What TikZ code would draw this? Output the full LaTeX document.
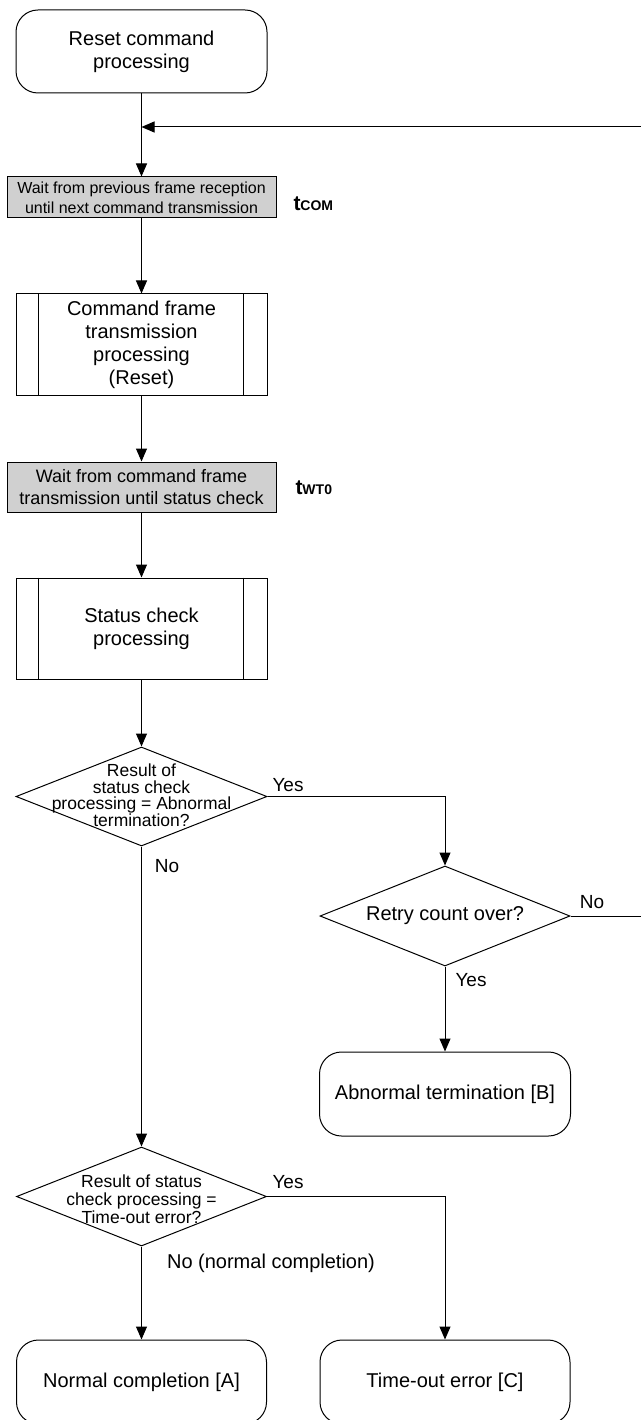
\documentclass[tikz,border=0pt]{standalone}
\usepackage{fontspec}
\setmainfont{Liberation Sans}
\usetikzlibrary{shapes.geometric,arrows.meta}
\definecolor{waitgray}{RGB}{208,208,208}
\begin{document}
\begin{tikzpicture}[x=1pt,y=-1pt,line width=1pt,
  arr/.style={-{Triangle[length=13pt,width=11pt]}},
  term/.style={draw, rounded corners=22pt, minimum width=251pt, minimum height=84pt, align=center, inner sep=0pt, font=\fontsize{20}{23}\selectfont},
  waitbox/.style={draw, fill=waitgray, minimum width=269pt, align=center, inner sep=0pt},
  procbox/.style={draw, minimum width=251pt, minimum height=101pt, align=center, inner sep=0pt, font=\fontsize{20}{23}\selectfont},
  dec/.style={draw, diamond, minimum width=251pt, minimum height=99pt, inner sep=0pt},
  dectext/.style={align=center, inner sep=0pt},
  lbl/.style={inner sep=0pt, font=\fontsize{19}{22}\selectfont},
  tlbl/.style={anchor=base west, inner sep=0pt, font=\fontsize{21}{22}\selectfont\bfseries}
]
\useasboundingbox (0,0) rectangle (640,1420);
\fill[white] (0,0) rectangle (640,1420);

% nodes
\node[term, minimum height=83pt] (start) at (141.5,51.5) {Reset command\\processing};
\node[waitbox, minimum height=41pt, font=\fontsize{16}{20}\selectfont] (wait1) at (141.5,197.5) {Wait from previous frame reception\\until next command transmission};
\node[tlbl] (tcom) at (293,211) {t{\fontsize{14}{14}\selectfont COM}};
\node[procbox] (cmd) at (141.5,344.5) {Command frame\\transmission\\processing\\(Reset)};
\node[waitbox, minimum height=50pt, font=\fontsize{18}{22}\selectfont] (wait2) at (141.5,487) {Wait from command frame\\transmission until status check};
\node[tlbl] (twt) at (295,494) {t{\fontsize{14}{14}\selectfont WT0}};
\node[procbox] (status) at (141.5,628.5) {Status check\\processing};
\node[dec] (d1) at (141.5,796.5) {};
\node[dectext, font=\fontsize{17.5}{16.5}\selectfont] (d1t) at (141.5,795) {Result of\\status check\\processing = Abnormal\\termination?};
\node[dec, minimum width=250pt, minimum height=100pt] (retry) at (445,916) {};
\node[dectext, font=\fontsize{20}{23}\selectfont] (retryt) at (445,916) {Retry count over?};
\node[term] (abn) at (445,1094) {Abnormal termination [B]};
\node[dec, minimum width=250pt] (d2) at (141.5,1196.5) {};
\node[dectext, font=\fontsize{17.5}{18}\selectfont] (d2t) at (141.5,1199) {Result of status\\check processing =\\Time-out error?};
\node[term, minimum width=250pt] (normal) at (141.5,1382) {Normal completion [A]};
\node[term, minimum width=250pt] (timeout) at (445,1382) {Time-out error [C]};

% processing box inner lines
\foreach \n in {cmd,status}{
  \draw ([xshift=23pt]\n.north west) -- ([xshift=23pt]\n.south west);
  \draw ([xshift=-24pt]\n.north east) -- ([xshift=-24pt]\n.south east);
}

% off-page ends of the retry loop
\coordinate (loopin) at (141.5,127);
\coordinate (loopedge) at (641,127);
\coordinate (noedge) at (641,916);

% connectors
\draw[arr] (start) -- (wait1);
\draw[arr] (loopedge) -- (loopin);
\draw[arr] (wait1) -- (cmd);
\draw[arr] (cmd) -- (wait2);
\draw[arr] (wait2) -- (status);
\draw[arr] (status) -- (d1);
\draw[arr] (d1.east) -| (retry.north);
\draw[arr] (d1.south) -- (d2.north);
\draw (retry.east) -- (noedge);
\draw[arr] (retry.south) -- (abn.north);
\draw[arr] (d2.east) -| (timeout.north);
\draw[arr] (d2.south) -- (normal.north);

% labels
\node[lbl] (y1) at (288,785) {Yes};
\node[lbl] (n1) at (167,866) {No};
\node[lbl] (n2) at (592,902) {No};
\node[lbl] (y2) at (471,980) {Yes};
\node[lbl] (y3) at (288,1182) {Yes};
\node[lbl, font=\fontsize{20}{22}\selectfont] (n3) at (271,1263) {No (normal completion)};
\end{tikzpicture}
\end{document}
